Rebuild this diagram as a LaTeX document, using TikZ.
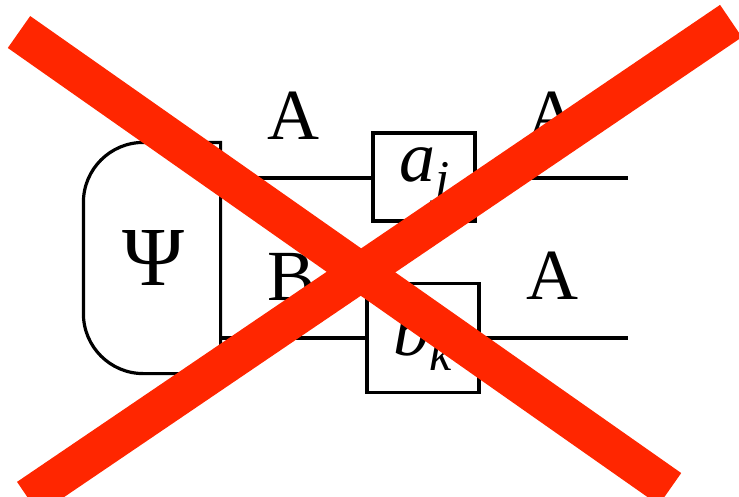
\documentclass[tikz,border=0pt]{standalone}
\usepackage{fontspec}
\setmainfont{Liberation Serif}
\usepackage{xcolor}
\usepackage{tikz}
\definecolor{crossRed}{RGB}{255,38,0}
\newcommand{\subIdx}[1]{\raisebox{-0.2em}{\fontsize{50}{50}\selectfont\textit{#1}}}

\begin{document}
\begin{tikzpicture}[x=1pt,y=-1pt,line width=3.2pt,
        box/.style = {rectangle, draw, inner sep=0pt},
        wireLabel/.style = {inner sep=0pt},
        cross/.style = {crossRed, line width=39pt}]
        \useasboundingbox (0,0) rectangle (739,496);
        \fontsize{72}{80}\selectfont

        % State Psi
        \node[inner sep=0pt, minimum width=134pt, minimum height=228pt] (psiArea) at (152,258) {};
        \node[wireLabel] (psi) at (153,258) {\fontsize{84}{90}\selectfont Ψ};
        \draw (psiArea.north east) -- ([xshift=60pt]psiArea.north west)
            arc[start angle=90, end angle=180, radius=60pt]
            -- ([yshift=60pt]psiArea.south west)
            arc[start angle=180, end angle=270, radius=60pt]
            -- (psiArea.south east) -- cycle;

        % Measurement boxes
        \node[box, minimum width=102pt, minimum height=88pt] (aj) at (424,177) {\raisebox{-4pt}{\textit{a}\subIdx{j}}};
        \node[box, minimum width=112pt, minimum height=109pt] (bk) at (423,338) {\textit{b}\subIdx{k}};

        % Wire ends
        \coordinate (outTop) at (628,178);
        \coordinate (outBottom) at (628,338);

        % Wires
        \draw (psiArea.east |- outTop) -- (outTop -| aj.west);
        \draw (outTop -| aj.east) -- (outTop);
        \draw (psiArea.east |- outBottom) -- (outBottom -| bk.west);
        \draw (outBottom -| bk.east) -- (outBottom);

        % System labels
        \node[wireLabel] (labA1) at (293,116) {A};
        \node[wireLabel] (labA2) at (552,116) {A};
        \node[wireLabel] (labB) at (292,277) {B};
        \node[wireLabel] (labA3) at (552,276) {A};

        % Red cross
        \coordinate (crossTL) at (19,32);
        \coordinate (crossBR) at (670,489);
        \coordinate (crossTR) at (731,21);
        \coordinate (crossBL) at (28,498);
        \draw[cross] (crossTL) -- (crossBR);
        \draw[cross] (crossTR) -- (crossBL);
    \end{tikzpicture}
\end{document}
